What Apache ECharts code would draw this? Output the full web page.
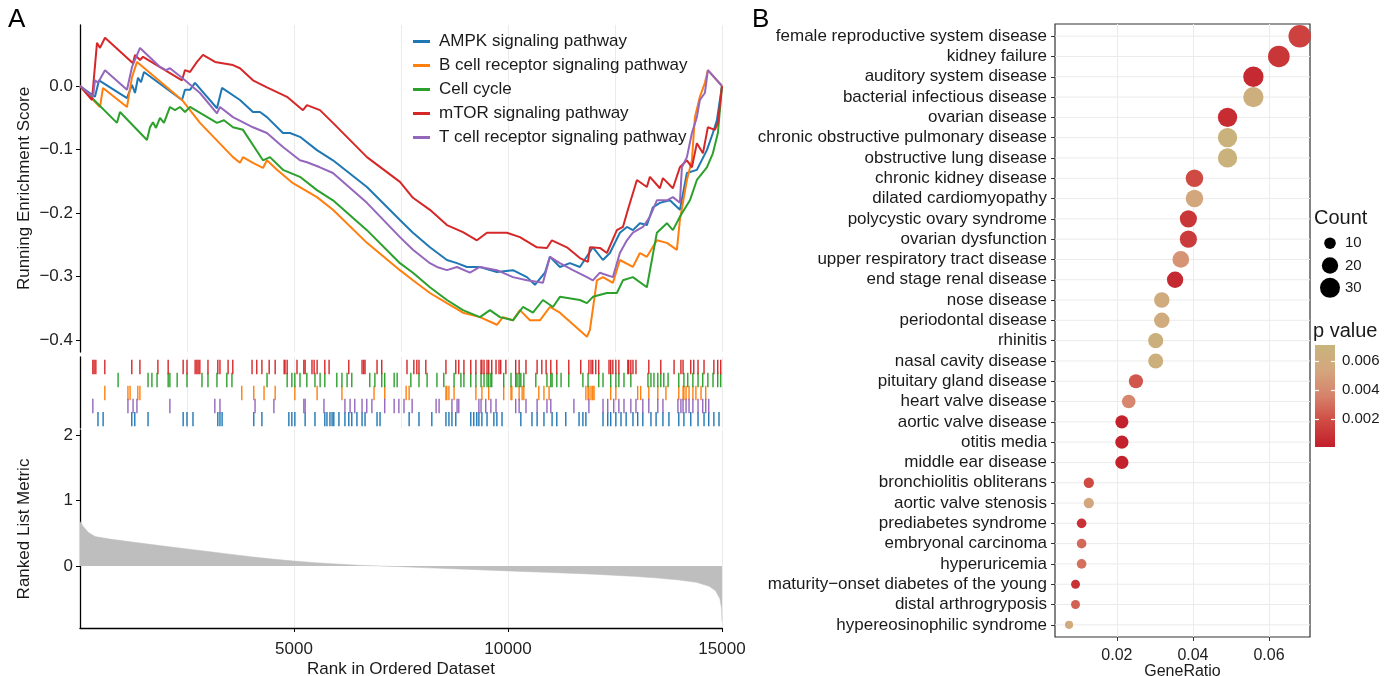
<!DOCTYPE html>
<html><head><meta charset="utf-8">
<script src="https://cdn.jsdelivr.net/npm/echarts@6/dist/echarts.min.js"></script>
<style>html,body{margin:0;padding:0;background:#fff}#c{width:1385px;height:676px}</style>
</head><body><div id="c"></div>
<script>
// ---------------- Panel A data ----------------
const pathways = ['AMPK signaling pathway','B cell receptor signaling pathway','Cell cycle','mTOR signaling pathway','T cell receptor signaling pathway'];

const scoreAMPK = [[0,0],[350,-0.017],[444,0.009],[1098,-0.019],[1215,0.002],[1285,-0.011],[1355,0.013],[1425,0.006],[1495,0.022],[2383,-0.022],[2453,-0.006],[2570,-0.006],[2686,0.005],[3200,-0.035],[3317,-0.003],[3738,-0.022],[4041,-0.041],[4205,-0.041],[4368,-0.049],[4742,-0.074],[4906,-0.074],[5139,-0.080],[5536,-0.101],[5910,-0.117],[6704,-0.159],[7475,-0.211],[7779,-0.231],[8176,-0.254],[8573,-0.274],[8807,-0.279],[9040,-0.285],[9344,-0.285],[9741,-0.293],[10115,-0.290],[10442,-0.301],[10629,-0.313],[10863,-0.294],[10979,-0.269],[11213,-0.285],[11446,-0.279],[11680,-0.285],[11984,-0.254],[12218,-0.274],[12381,-0.263],[12614,-0.231],[12778,-0.222],[12918,-0.227],[13082,-0.216],[13245,-0.219],[13385,-0.191],[13549,-0.184],[13782,-0.180],[14016,-0.195],[14180,-0.137],[14413,-0.132],[14647,-0.101],[14787,-0.074],[14880,-0.054],[15000,0]];
const scoreBcell = [[0,0],[467,-0.033],[537,-0.003],[1098,-0.033],[1215,0.014],[1332,0.038],[2383,-0.022],[2803,-0.058],[3574,-0.112],[3738,-0.121],[3808,-0.112],[4041,-0.121],[4275,-0.129],[4368,-0.117],[4602,-0.132],[4976,-0.153],[5536,-0.175],[5910,-0.195],[6704,-0.247],[7475,-0.290],[7779,-0.306],[8176,-0.326],[8573,-0.342],[8947,-0.357],[9344,-0.364],[9741,-0.376],[9881,-0.364],[10115,-0.369],[10278,-0.353],[10512,-0.369],[10746,-0.369],[10979,-0.348],[11213,-0.357],[11844,-0.395],[11914,-0.384],[12077,-0.306],[12218,-0.301],[12451,-0.310],[12614,-0.274],[12918,-0.285],[13082,-0.263],[13245,-0.269],[13479,-0.243],[13713,-0.247],[13946,-0.258],[14016,-0.211],[14180,-0.148],[14297,-0.117],[14367,-0.049],[14483,-0.017],[14600,0.005],[14670,0.025],[15000,0]];
const scoreCellCycle = [[0,0],[864,-0.058],[934,-0.041],[1565,-0.085],[1635,-0.065],[1705,-0.057],[1775,-0.066],[1869,-0.050],[1962,-0.058],[2102,-0.033],[2219,-0.038],[2336,-0.033],[2453,-0.041],[2570,-0.033],[3200,-0.058],[3364,-0.054],[3574,-0.065],[3808,-0.069],[4275,-0.117],[4438,-0.112],[4742,-0.132],[5139,-0.143],[5536,-0.164],[5910,-0.180],[6704,-0.227],[7475,-0.279],[7779,-0.294],[8176,-0.317],[8573,-0.337],[8947,-0.353],[9344,-0.364],[9578,-0.353],[9812,-0.364],[10115,-0.369],[10349,-0.348],[10583,-0.357],[10816,-0.337],[11050,-0.348],[11213,-0.332],[11680,-0.337],[11844,-0.342],[11984,-0.332],[12311,-0.326],[12544,-0.326],[12685,-0.306],[12918,-0.301],[13245,-0.317],[13479,-0.231],[13713,-0.216],[13853,-0.227],[14016,-0.206],[14250,-0.180],[14413,-0.148],[14647,-0.128],[14787,-0.106],[14904,-0.074],[15000,0]];
const scoreMTOR = [[0,0],[280,-0.022],[397,0.068],[467,0.060],[584,0.076],[1238,0.036],[1285,0.049],[1402,0.041],[1472,0.046],[2383,0.009],[2453,0.025],[2570,0.022],[2733,0.038],[2873,0.049],[3154,0.038],[3574,0.033],[3738,0.028],[4041,0.009],[4368,-0.002],[4836,-0.017],[5209,-0.038],[5303,-0.030],[5606,-0.038],[5910,-0.058],[6704,-0.112],[7475,-0.151],[7779,-0.176],[8176,-0.195],[8573,-0.219],[8947,-0.230],[9274,-0.243],[9508,-0.231],[9975,-0.231],[10278,-0.238],[10676,-0.254],[10909,-0.255],[11026,-0.243],[11376,-0.254],[11680,-0.271],[11867,-0.277],[11914,-0.254],[12147,-0.255],[12311,-0.263],[12544,-0.227],[12685,-0.222],[12801,-0.195],[13012,-0.148],[13245,-0.159],[13315,-0.143],[13549,-0.161],[13619,-0.145],[13853,-0.161],[14016,-0.128],[14180,-0.117],[14297,-0.128],[14413,-0.090],[14554,-0.106],[14670,-0.065],[14834,-0.069],[14904,-0.058],[15000,0]];
const scoreTcell = [[0,0],[304,-0.017],[350,0.009],[420,0.005],[584,0.025],[1098,-0.006],[1215,0.030],[1402,0.060],[1869,0.030],[2009,0.025],[2102,0.028],[2383,0.013],[2803,-0.011],[3200,-0.043],[3270,-0.033],[3574,-0.049],[4041,-0.065],[4368,-0.074],[4742,-0.096],[5139,-0.117],[5303,-0.120],[5606,-0.128],[5910,-0.137],[6704,-0.184],[7475,-0.238],[7779,-0.258],[8176,-0.279],[8340,-0.285],[8573,-0.290],[8807,-0.285],[9110,-0.294],[9344,-0.285],[9741,-0.290],[10115,-0.301],[10442,-0.306],[10816,-0.310],[10979,-0.269],[11213,-0.279],[11517,-0.290],[11844,-0.301],[11984,-0.306],[12147,-0.294],[12451,-0.301],[12614,-0.263],[12778,-0.243],[12918,-0.231],[13152,-0.222],[13315,-0.206],[13479,-0.180],[13713,-0.180],[13853,-0.175],[14016,-0.184],[14063,-0.128],[14180,-0.112],[14297,-0.074],[14413,-0.049],[14483,-0.022],[14600,-0.011],[14670,0.025],[15000,0]];

const hitsAMPK = [420,540,1210,1280,1590,2410,2500,2640,3220,3270,3320,4060,4250,4880,4950,5020,5260,5490,5720,5770,5840,5890,5930,6050,6190,6280,6350,6470,6590,6660,6940,7010,7690,7920,8220,8550,8620,8690,8780,9130,9200,9270,9320,9390,9510,9670,9740,9860,10300,10560,10680,10840,11030,11140,11350,11660,11750,11820,12220,12330,12400,12520,12640,12760,12920,13030,13150,13340,13460,13620,13760,13990,14110,14270,14440,14580,14690,14810,14930];
const hitsBcell = [580,1120,1170,1350,1400,3780,4060,4300,4560,5020,5540,6120,6870,7120,7620,7690,8550,8570,8620,8740,9250,9390,9550,9900,10070,10090,10260,10330,10370,10720,10840,10960,11820,11870,11890,11940,11980,12010,12400,12520,13030,13100,13290,13500,13690,13990,14090,14110,14160,14230,14320,14390,14510,14620];
const hitsCellCycle = [890,1590,1680,1800,2060,2100,2270,2500,2850,2990,3200,3430,3550,4370,4840,4950,5020,5140,5300,5490,5610,5720,6000,6120,6240,6350,6770,6890,7050,7120,7340,7410,7730,7920,8110,8340,8500,8740,8900,8970,9130,9250,9370,9440,9510,9550,9600,9620,9900,10070,10180,10210,10260,10300,10370,10650,10910,11000,11030,11140,11240,11420,11750,11870,12120,12220,12400,12520,12590,12710,12870,13270,13340,13410,13500,13570,13640,13740,13990,14110,14200,14320,14440,14550,14670,14790,14900,14970];
const hitsMTOR = [300,330,370,580,1210,1400,1820,2060,2410,2500,2690,2730,2760,2800,2990,3220,3270,3460,3570,4020,4130,4250,4420,4560,4770,4790,4840,5070,5230,5260,5420,5470,5540,5720,5820,6280,6590,6630,6660,6940,7050,7640,7800,7870,7920,8080,8550,8780,8850,8970,9130,9250,9370,9390,9440,9510,9550,9620,9720,9790,9830,9950,10180,10260,10420,10680,10790,10890,11000,11140,11420,11700,11890,11940,11980,12050,12120,12360,12400,12450,12520,12590,12800,12820,12870,12920,12990,13290,13570,13880,14040,14090,14270,14340,14440,14580,14810,14900,14970];
const hitsTcell = [300,1120,1240,1330,2100,3150,3270,4090,4530,5230,5260,5700,6190,6310,6420,6590,6700,6820,7120,7340,7450,7570,7760,8320,8390,8690,8810,8850,9320,9370,9480,9600,9720,10180,10260,10420,10680,10910,11000,11540,11890,12220,12330,12470,12590,12710,12870,12990,13150,13290,13500,13620,13970,14040,14090,14160,14230,14320,14440,14550,14620,14690];

const rankedMetric = [[0,0.68],[80,0.60],[200,0.51],[350,0.45],[700,0.41],[1400,0.35],[2000,0.30],[2500,0.26],[3000,0.22],[3500,0.18],[4000,0.14],[4500,0.105],[5000,0.075],[5500,0.05],[6000,0.03],[6500,0.012],[7000,0],[7500,-0.01],[8000,-0.025],[9000,-0.05],[10000,-0.075],[11000,-0.1],[12000,-0.125],[13000,-0.16],[13500,-0.185],[14000,-0.215],[14400,-0.25],[14700,-0.31],[14850,-0.38],[14950,-0.5],[14990,-0.65],[15000,-0.85]];

const scoreTicks = [-0.4,-0.3,-0.2,-0.1,0];
const metricTicks = [0,1,2];
const rankTicks = [5000,10000,15000];

// ---------------- Panel B data ----------------
const diseases = ['female reproductive system disease','kidney failure','auditory system disease','bacterial infectious disease','ovarian disease','chronic obstructive pulmonary disease','obstructive lung disease','chronic kidney disease','dilated cardiomyopathy','polycystic ovary syndrome','ovarian dysfunction','upper respiratory tract disease','end stage renal disease','nose disease','periodontal disease','rhinitis','nasal cavity disease','pituitary gland disease','heart valve disease','aortic valve disease','otitis media','middle ear disease','bronchiolitis obliterans','aortic valve stenosis','prediabetes syndrome','embryonal carcinoma','hyperuricemia','maturity\u2212onset diabetes of the young','distal arthrogryposis','hypereosinophilic syndrome'];
const geneRatio = [0.0681,0.0626,0.0559,0.0559,0.0491,0.0491,0.0491,0.0404,0.0404,0.0388,0.0388,0.0368,0.0353,0.0318,0.0318,0.0302,0.0302,0.0250,0.0231,0.0213,0.0213,0.0213,0.0126,0.0126,0.0107,0.0107,0.0107,0.0091,0.0091,0.0074];
const counts = [38,35,31,31,28,28,28,23,23,22,22,21,20,18,18,17,17,15,14,13,13,13,8,8,7,7,7,6,6,5];
const pValues = [0.0015,0.001,0.0005,0.0065,0.0006,0.0068,0.0068,0.0018,0.0055,0.001,0.0012,0.0045,0.0005,0.006,0.006,0.0066,0.0066,0.0022,0.0038,0.0002,0.0002,0.0002,0.0018,0.0055,0.0008,0.0028,0.003,0.0008,0.0025,0.0058];
const ratioTicks = [0.02,0.04,0.06];
const countLegend = [10,20,30];
const pTicks = [0.002,0.004,0.006];
const pRange = [0.00005,0.0071];

// ---------------- styling ----------------
const FONT = '"Liberation Sans", Arial, Helvetica, sans-serif';
const TXT = '#1a1a1a';
const lineColors = ['#1F77B4','#FF7F0E','#2CA02C','#D62728','#9467BD'];
const pColors = ['#C21E2B','#CF4A43','#D6826B','#D4A67E','#C8B47C'];
const GRIDC = '#EBEBEB';
const scores = [scoreAMPK, scoreBcell, scoreCellCycle, scoreMTOR, scoreTcell];
const hits = [hitsAMPK, hitsBcell, hitsCellCycle, hitsMTOR, hitsTcell];
const hitRow = [0, 2, 3, 4, 1];
const sizeOf = c => 3.65 * Math.sqrt(c);

const chart = echarts.init(document.getElementById('c'), null, {width:1385, height:676});

const series = [];
scores.forEach((s, k) => series.push({
  type:'line', name: pathways[k], data: s, xAxisIndex:0, yAxisIndex:0,
  showSymbol:false, symbol:'none', lineStyle:{width:2, color: lineColors[k]}, itemStyle:{color: lineColors[k]}
}));
hits.forEach((h, k) => series.push({
  type:'custom', name: 'hits ' + pathways[k], xAxisIndex:1, yAxisIndex:1,
  itemStyle:{color: lineColors[k]},
  data: h.map(v => [v, hitRow[k]]),
  encode:{x:0, y:1},
  renderItem: (params, api) => {
    const x = api.value(0), r = api.value(1) + 0.69;
    const a = api.coord([x, r - 0.55]), b = api.coord([x, r + 0.55]);
    return {type:'line', shape:{x1:a[0], y1:a[1], x2:b[0], y2:b[1]}, style:{stroke: lineColors[k], lineWidth:1.4}};
  }
}));
series.push({
  type:'line', name:'ranked', data: rankedMetric, xAxisIndex:2, yAxisIndex:2,
  showSymbol:false, symbol:'none', lineStyle:{width:0.5, color:'#BEBEBE'},
  areaStyle:{color:'#BEBEBE', opacity:1, origin:'auto'}
});
series.push({
  type:'scatter', name:'diseases', xAxisIndex:3, yAxisIndex:3, z:3,
  data: diseases.map((d, i) => [geneRatio[i], i, counts[i], pValues[i]]),
  symbolSize: v => sizeOf(v[2]), itemStyle:{opacity:1}
});
series.push({
  type:'scatter', name:'countLegend', xAxisIndex:4, yAxisIndex:4,
  data: countLegend.map((c, i) => [0, i, c]),
  symbolSize: v => sizeOf(v[2]), itemStyle:{color:'#000', opacity:1}
});
series.push({
  type:'custom', name:'colorbar', xAxisIndex:5, yAxisIndex:5,
  data: [[0, pRange[0], pRange[1]]], encode:{x:0, y:[1,2]},
  renderItem: (params, api) => {
    const a = api.coord([0, api.value(1)]), b = api.coord([1, api.value(2)]);
    return {type:'rect', shape:{x:a[0], y:b[1], width:b[0]-a[0], height:a[1]-b[1]},
      style:{fill: new echarts.graphic.LinearGradient(0,1,0,0, pColors.map((c,i)=>({offset:i/(pColors.length-1), color:c})))}};
  }
});
series.push({
  type:'custom', name:'rowlines', xAxisIndex:3, yAxisIndex:3, z:1, silent:true,
  data: diseases.map((d, i) => [0.03, i]), encode:{x:0, y:1},
  renderItem: (params, api) => {
    const cs = params.coordSys; const y = api.coord([0.03, api.value(1)])[1];
    return {type:'line', shape:{x1:cs.x, y1:y, x2:cs.x+cs.width, y2:y}, style:{stroke:GRIDC, lineWidth:1}};
  }
});

const lab = (o) => Object.assign({fontSize:17, color:TXT, fontFamily:FONT}, o || {});
const hiddenX = (gi) => ({type:'value', gridIndex:gi, min:0, max:15000, interval:2500,
  axisLine:{show:false, onZero:false}, axisTick:{show:false}, axisLabel:{show:false},
  splitLine:{show:true, lineStyle:{color:GRIDC, width:1}}});
const G = (o) => Object.assign({outerBoundsMode:'none', containLabel:false}, o);

const option = {
  animation:false,
  backgroundColor:'#fff',
  textStyle:{fontFamily:FONT},
  title:[
    {text:'A', left:8, top:7, padding:0, textStyle:{fontSize:26, fontWeight:'normal', color:'#000', fontFamily:FONT}},
    {text:'B', left:752, top:7, padding:0, textStyle:{fontSize:26, fontWeight:'normal', color:'#000', fontFamily:FONT}},
    {text:'Count', left:1314, top:208, padding:0, textStyle:{fontSize:20, fontWeight:'normal', color:TXT, fontFamily:FONT}},
    {text:'p value', left:1313, top:321, padding:0, textStyle:{fontSize:20, fontWeight:'normal', color:TXT, fontFamily:FONT}}
  ],
  legend:{
    data: pathways, left:408, top:28, orient:'vertical', icon:'rect', itemWidth:17, itemHeight:3, itemGap:7,
    selectedMode:false, textStyle:lab({lineHeight:17, padding:[0,0,0,4]})
  },
  grid:[
    G({left:80, top:25, width:642, height:327}),
    G({left:80, top:357, width:642, height:71}),
    G({left:80, top:430, width:642, height:198}),
    G({left:1055, top:24, width:255, height:613, show:true, borderColor:'#333', borderWidth:1.2}),
    G({left:1320, top:232, width:20, height:67}),
    G({left:1315, top:345, width:20, height:102})
  ],
  xAxis:[
    hiddenX(0), hiddenX(1),
    {type:'value', gridIndex:2, min:0, max:15000, interval:2500, position:'bottom',
      axisLine:{show:true, onZero:false, lineStyle:{color:'#000', width:1.3}},
      axisTick:{show:true, customValues:rankTicks, length:4, lineStyle:{color:'#000'}},
      axisLabel:{customValues:rankTicks, margin:13, formatter:v=>String(v), fontSize:17, color:'#222'},
      splitLine:{show:true, lineStyle:{color:GRIDC, width:1}},
      name:'Rank in Ordered Dataset', nameLocation:'middle', nameGap:33, nameMoveOverlap:false, nameTextStyle:lab()},
    {type:'value', gridIndex:3, min:0.0037, max:0.0708, position:'bottom',
      axisLine:{show:false, onZero:false},
      axisTick:{show:true, customValues:ratioTicks, length:4, lineStyle:{color:'#333'}},
      axisLabel:{customValues:ratioTicks, margin:11, formatter:v=>v.toFixed(2), fontSize:16, color:'#222'},
      splitLine:{show:true, lineStyle:{color:GRIDC, width:1}},
      name:'GeneRatio', nameLocation:'middle', nameGap:27, nameMoveOverlap:false, nameTextStyle:lab({fontSize:16})},
    {type:'value', gridIndex:4, min:-1, max:1, show:false},
    {type:'value', gridIndex:5, min:0, max:1, show:false}
  ],
  yAxis:[
    {type:'value', gridIndex:0, min:-0.4189, max:0.0961,
      axisLine:{show:true, onZero:false, lineStyle:{color:'#000', width:1.3}},
      axisTick:{show:true, customValues:scoreTicks, length:4, lineStyle:{color:'#000'}},
      axisLabel:{customValues:scoreTicks, margin:7, fontSize:17, color:'#222', formatter:v=>(v<0?'\u2212':'')+Math.abs(v).toFixed(1)},
      splitLine:{show:false},
      name:'Running Enrichment Score', nameLocation:'middle', nameGap:47, nameTextStyle:lab()},
    {type:'value', gridIndex:1, min:0, max:5.46,
      axisLine:{show:true, onZero:false, lineStyle:{color:'#000', width:1.3}},
      axisTick:{show:false}, axisLabel:{show:false}, splitLine:{show:false}},
    {type:'value', gridIndex:2, min:-0.947, max:2.076,
      axisLine:{show:true, onZero:false, lineStyle:{color:'#000', width:1.3}},
      axisTick:{show:true, customValues:metricTicks, length:4, lineStyle:{color:'#000'}},
      axisLabel:{customValues:metricTicks, margin:7, fontSize:17, color:'#222', formatter:v=>String(v)},
      splitLine:{show:false},
      name:'Ranked List Metric', nameLocation:'middle', nameGap:47, nameTextStyle:lab()},
    {type:'value', gridIndex:3, min:-0.6, max:29.6, inverse:true, position:'left',
      axisLine:{show:false, onZero:false},
      axisTick:{show:true, customValues:diseases.map((d,i)=>i), length:4, lineStyle:{color:'#333'}},
      axisLabel:{customValues:diseases.map((d,i)=>i), margin:8, fontSize:17, color:TXT, formatter:v=>diseases[Math.round(v)]},
      splitLine:{show:false}},
    {type:'category', gridIndex:4, data:countLegend.map(String), inverse:true, position:'right',
      axisLine:{show:false, onZero:false}, axisTick:{show:false}, splitLine:{show:false},
      axisLabel:{margin:5, fontSize:15, color:TXT}},
    {type:'value', gridIndex:5, min:pRange[0], max:pRange[1], position:'right', z:10,
      axisLine:{show:false, onZero:false},
      axisTick:{show:true, inside:true, customValues:pTicks, length:4, lineStyle:{color:'#fff', width:1.2}},
      axisLabel:{customValues:pTicks, margin:7, fontSize:15, color:TXT, formatter:v=>v.toFixed(3)},
      splitLine:{show:false}},
    {type:'value', gridIndex:5, min:pRange[0], max:pRange[1], position:'left', z:10,
      axisLine:{show:false, onZero:false},
      axisTick:{show:true, inside:true, customValues:pTicks, length:4, lineStyle:{color:'#fff', width:1.2}},
      axisLabel:{show:false}, splitLine:{show:false}}
  ],
  visualMap:[{type:'continuous', show:false, seriesIndex:11, dimension:3, min:pRange[0], max:pRange[1], inRange:{color:pColors}}],
  series: series
};
chart.setOption(option);
</script>
</body></html>
